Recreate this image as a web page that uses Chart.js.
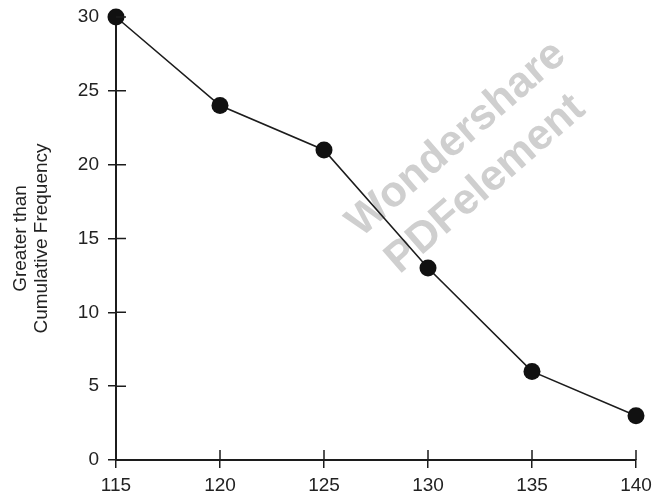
<!DOCTYPE html>
<html>
<head>
<meta charset="utf-8">
<script src="https://cdn.jsdelivr.net/npm/chart.js@4"></script>
<style>
  html, body { margin: 0; padding: 0; background: #fff; }
  canvas { display: block; }
</style>
</head>
<body>
<canvas id="ogive" width="655" height="501"></canvas>
<script>
// data
const classLimits = [115, 120, 125, 130, 135, 140];
const cumFreq = [30, 24, 21, 13, 6, 3];
const yTitle = ['Greater than', 'Cumulative Frequency'];
const watermark = ['Wondershare', 'PDFelement'];

const ink = '#1c1c1c';
const font = 'Liberation Sans, Arial, Helvetica, sans-serif';

/* small tick halves on the inside of the axes (the picture has crossing ticks) */
const innerTicks = {
  id: 'innerTicks',
  afterDraw(chart) {
    const { ctx, chartArea, scales } = chart;
    ctx.save();
    ctx.strokeStyle = ink;
    ctx.lineWidth = 1.5;
    ctx.beginPath();
    scales.x.ticks.forEach(t => {
      const px = scales.x.getPixelForValue(t.value);
      ctx.moveTo(px, chartArea.bottom);
      ctx.lineTo(px, chartArea.bottom - 10);
    });
    scales.y.ticks.forEach(t => {
      const py = scales.y.getPixelForValue(t.value);
      ctx.moveTo(chartArea.left, py);
      ctx.lineTo(chartArea.left + 10, py);
    });
    ctx.stroke();
    ctx.restore();
  }
};

/* grey diagonal watermark behind the line */
const stamp = {
  id: 'stamp',
  beforeDatasetsDraw(chart) {
    const { ctx, chartArea } = chart;
    ctx.save();
    ctx.translate(chartArea.left + 354, chartArea.top + 145);
    ctx.rotate(-41 * Math.PI / 180);
    ctx.fillStyle = '#cfcfcf';
    ctx.font = 'bold 43px ' + font;
    ctx.textAlign = 'center';
    ctx.textBaseline = 'middle';
    ctx.fillText(watermark[0], 5, -26);
    ctx.fillText(watermark[1], -3, 27);
    ctx.restore();
  }
};

new Chart(document.getElementById('ogive'), {
  type: 'line',
  data: {
    datasets: [{
      data: classLimits.map((x, i) => ({ x: x, y: cumFreq[i] })),
      borderColor: ink,
      borderWidth: 1.6,
      pointRadius: 8.5,
      pointBackgroundColor: '#111',
      pointBorderWidth: 0,
      tension: 0,
      clip: false
    }]
  },
  options: {
    responsive: false,
    animation: false,
    layout: { padding: { top: 17, right: 19, left: 0, bottom: 0 } },
    plugins: { legend: { display: false }, tooltip: { enabled: false } },
    scales: {
      x: {
        type: 'linear',
        min: 115,
        max: 140,
        afterFit(scale) {
          scale.height = 41;
          scale.paddingLeft = 0;
          scale.paddingRight = 0;
        },
        border: { color: ink, width: 2 },
        grid: { drawOnChartArea: false, tickLength: 8, color: ink, lineWidth: 1.5 },
        ticks: { stepSize: 5, padding: 6, color: '#222', font: { family: font, size: 19 } }
      },
      y: {
        min: 0,
        max: 30,
        afterFit(scale) {
          scale.width = 116;
          scale.paddingTop = 0;
          scale.paddingBottom = 0;
        },
        border: { color: ink, width: 2 },
        grid: { drawOnChartArea: false, tickLength: 8, color: ink, lineWidth: 1.5 },
        ticks: { stepSize: 5, padding: 9, color: '#222', font: { family: font, size: 19 } },
        title: {
          display: true,
          text: yTitle,
          color: '#222',
          padding: { top: 10, bottom: 0 },
          font: { family: font, size: 19, lineHeight: 1.1 }
        }
      }
    }
  },
  plugins: [stamp, innerTicks]
});
</script>
</body>
</html>
